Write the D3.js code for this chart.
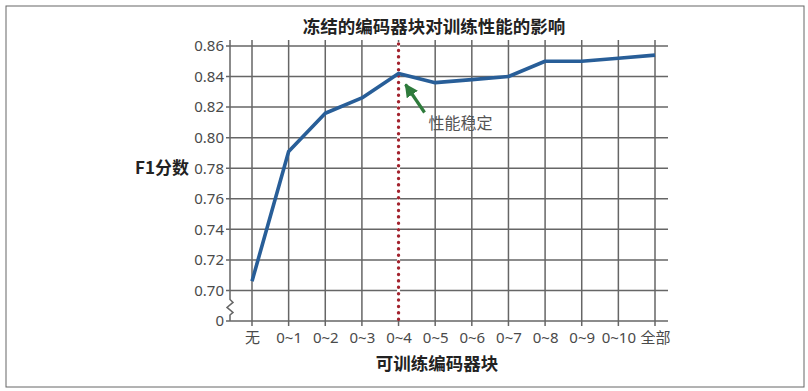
<!DOCTYPE html>
<html>
<head>
<meta charset="utf-8">
<script src="https://cdn.jsdelivr.net/npm/d3@7"></script>
<style>
  body { margin: 0; background: #fff; }
  svg { display: block; }
  text { font-family: "Noto Sans", "Noto Sans CJK SC", sans-serif; }
  .cjk { font-family: "Noto Sans CJK SC", "Noto Sans", sans-serif; }
</style>
</head>
<body>
<svg id="chart"></svg>
<script>
// data
var categories = ["无", "0~1", "0~2", "0~3", "0~4", "0~5", "0~6", "0~7", "0~8", "0~9", "0~10", "全部"];
var f1Scores = [0.706, 0.791, 0.816, 0.826, 0.842, 0.836, 0.838, 0.840, 0.850, 0.850, 0.852, 0.854];
var yTickValues = [0.68, 0.70, 0.72, 0.74, 0.76, 0.78, 0.80, 0.82, 0.84, 0.86];
var yTickLabels = ["0", "0.70", "0.72", "0.74", "0.76", "0.78", "0.80", "0.82", "0.84", "0.86"];
var stableCategory = "0~4";
var stableLabel = "性能稳定";
var chartTitle = "冻结的编码器块对训练性能的影响";
var xTitle = "可训练编码器块";
var yTitle = "F1分数";

var W = 808, H = 391;
// note: "top" is taken by window.top, so plot edges get their own names
var plotLeft = 230, plotRight = 668, plotTop = 46, plotBottom = 321;

var svg = d3.select("#chart").attr("width", W).attr("height", H);

// frame
svg.append("rect")
  .attr("x", 6).attr("y", 6).attr("width", 798).attr("height", 381)
  .attr("fill", "none").attr("stroke", "#666").attr("stroke-width", 1);

var x = d3.scalePoint().domain(categories).range([252, 655]);
var y = d3.scaleLinear().domain([0.68, 0.86]).range([plotBottom, plotTop]);

var gridColor = "#666";

// grid, vertical
svg.append("g").selectAll("line")
  .data(categories)
  .enter().append("line")
  .attr("x1", d => x(d)).attr("x2", d => x(d))
  .attr("y1", plotTop - 6).attr("y2", plotBottom + 5)
  .attr("stroke", gridColor).attr("stroke-width", 1.5);

// grid, horizontal
svg.append("g").selectAll("line")
  .data(yTickValues)
  .enter().append("line")
  .attr("x1", plotLeft - 4).attr("x2", plotRight)
  .attr("y1", d => y(d)).attr("y2", d => y(d))
  .attr("stroke", gridColor).attr("stroke-width", 1.5);

// y axis labels
var yAxis = d3.axisLeft(y)
  .tickValues(yTickValues)
  .tickFormat((d, i) => yTickLabels[i])
  .tickSize(4)
  .tickPadding(2);
var gy = svg.append("g").attr("transform", "translate(" + plotLeft + ",0)").call(yAxis);
gy.select(".domain").remove();
gy.selectAll(".tick line").remove();
gy.selectAll("text").attr("font-size", 15).attr("fill", "#4a4a4a")
  .style("font-family", "'Noto Sans', sans-serif");

// y axis line with break
var yb = y(0.70), y0 = y(0.68);
var axisPath = d3.path();
axisPath.moveTo(plotLeft, plotTop - 6);
axisPath.lineTo(plotLeft, yb + 9);
axisPath.lineTo(plotLeft + 3, yb + 12);
axisPath.lineTo(plotLeft - 3, yb + 17);
axisPath.lineTo(plotLeft + 3, yb + 22);
axisPath.lineTo(plotLeft, y0 - 6);
axisPath.lineTo(plotLeft, y0);
svg.append("path").attr("d", axisPath.toString())
  .attr("fill", "none").attr("stroke", gridColor).attr("stroke-width", 1.5);

// x axis labels
var xAxis = d3.axisBottom(x).tickSize(5).tickPadding(6);
var gx = svg.append("g").attr("transform", "translate(0," + plotBottom + ")").call(xAxis);
gx.select(".domain").remove();
gx.selectAll(".tick line").remove();
gx.selectAll("text").attr("font-size", 15).attr("fill", "#4a4a4a")
  .style("font-family", "'Noto Sans', 'Noto Sans CJK SC', sans-serif");

// stable marker, round dots over a white strip hiding the grid line
svg.append("line")
  .attr("x1", x(stableCategory)).attr("x2", x(stableCategory))
  .attr("y1", plotTop - 4).attr("y2", plotBottom - 1)
  .attr("stroke", "#fff").attr("stroke-width", 3);
svg.append("line")
  .attr("x1", x(stableCategory)).attr("x2", x(stableCategory))
  .attr("y1", plotTop - 2).attr("y2", plotBottom)
  .attr("stroke", "#a3232e").attr("stroke-width", 3.4)
  .attr("stroke-linecap", "round")
  .attr("stroke-dasharray", "0.1,6.3");

// line
var line = d3.line()
  .x((d, i) => x(categories[i]))
  .y(d => y(d));
svg.append("path")
  .datum(f1Scores)
  .attr("d", line)
  .attr("fill", "none")
  .attr("stroke", "#285e98")
  .attr("stroke-width", 3.6)
  .attr("stroke-linejoin", "round");

// annotation arrow
var sx = x(stableCategory), sy = y(f1Scores[categories.indexOf(stableCategory)]);
var defs = svg.append("defs");
defs.append("marker")
  .attr("id", "arrow")
  .attr("viewBox", "0 0 10 10")
  .attr("refX", 9).attr("refY", 5)
  .attr("markerWidth", 4.2).attr("markerHeight", 4.2)
  .attr("markerUnits", "strokeWidth")
  .attr("orient", "auto")
  .append("path").attr("d", "M0,0 L10,5 L0,10 z").attr("fill", "#2e7b3c");
svg.append("line")
  .attr("x1", sx + 26).attr("y1", sy + 39)
  .attr("x2", sx + 7).attr("y2", sy + 11)
  .attr("stroke", "#2e7b3c").attr("stroke-width", 3.2)
  .attr("marker-end", "url(#arrow)");
svg.append("text")
  .attr("class", "cjk")
  .attr("x", sx + 30).attr("y", sy + 55)
  .attr("font-size", 16).attr("fill", "#555")
  .text(stableLabel);

// titles
svg.append("text").attr("class", "cjk")
  .attr("x", 434).attr("y", 33)
  .attr("text-anchor", "middle")
  .attr("font-size", 17.5).attr("font-weight", "bold").attr("fill", "#222")
  .text(chartTitle);

svg.append("text").attr("class", "cjk")
  .attr("x", 437).attr("y", 370)
  .attr("text-anchor", "middle")
  .attr("font-size", 17.5).attr("font-weight", "bold").attr("fill", "#222")
  .text(xTitle);

svg.append("text").attr("class", "cjk")
  .attr("x", 135).attr("y", 174)
  .attr("font-size", 17).attr("font-weight", "bold").attr("fill", "#222")
  .text(yTitle);
</script>
</body>
</html>
